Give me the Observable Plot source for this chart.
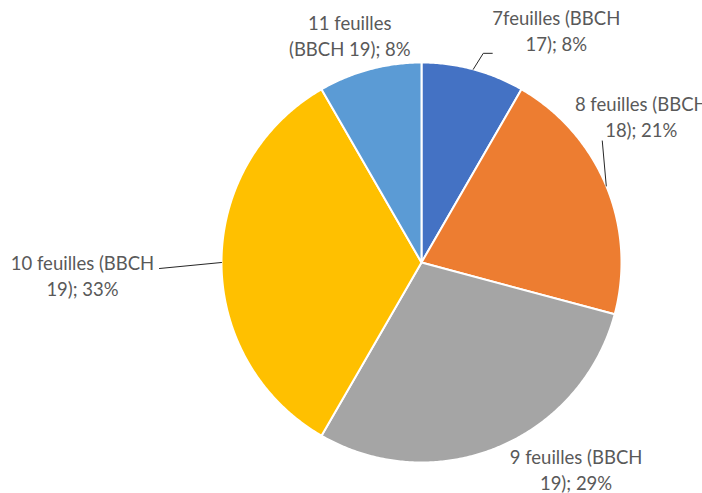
<!DOCTYPE html>
<html><head><meta charset="utf-8">
<script src="https://cdn.jsdelivr.net/npm/d3@7"></script>
<script src="https://cdn.jsdelivr.net/npm/@observablehq/plot@0.6"></script>
<style>body{margin:0;background:#fff;overflow:hidden}</style>
</head><body><div id="chart"></div>
<script>
// ---- data ----
const categories = ["7feuilles (BBCH 17)", "8 feuilles (BBCH 18)", "9 feuilles (BBCH 19)", "10 feuilles (BBCH 19)", "11 feuilles (BBCH 19)"];
const counts = [2, 5, 7, 8, 2];
const labelTexts = ["7feuilles (BBCH\n17); 8%", "8 feuilles (BBCH\n18); 21%", "9 feuilles (BBCH\n19); 29%", "10 feuilles (BBCH\n19); 33%", "11 feuilles\n(BBCH 19); 8%"];
const colors = ["#4472C4", "#ED7D31", "#A5A5A5", "#FFC000", "#5B9BD5"];

// ---- layout (pixels) ----
const W = 702, H = 493, R = 200, CX = 421, CY = 262;
const labelOffsets = [[83, -40], [35, -70], [78, 21], [-139, 12], [-20, -35]];
const leaders = [
  {i: 0, path: [[0, 0], [10, -16], [19, -16]]},
  {i: 1, path: [[0, 0], [-4, -45]]},
  {i: 3, path: [[0, 0], [-62, 6]]}
];

const arcs = d3.pie().sort(null).value(d => d)(counts);
const pt = (a, r = 1) => ({x: r * Math.sin(a), y: r * Math.cos(a)});

const sliceMarks = arcs.map((a, i) => {
  const pts = [{x: 0, y: 0}];
  const n = Math.max(2, Math.ceil((a.endAngle - a.startAngle) / (Math.PI / 360)));
  for (let k = 0; k <= n; k++) pts.push(pt(a.startAngle + (a.endAngle - a.startAngle) * k / n));
  pts.push({x: 0, y: 0});
  return Plot.line(pts, {x: "x", y: "y", fill: colors[i], stroke: "white", strokeWidth: 2, strokeLinejoin: "round", curve: "linear"});
});

const mid = a => (a.startAngle + a.endAngle) / 2;
const labels = arcs.map((a, i) => {
  const p = pt(mid(a));
  return {x: p.x, y: p.y, text: labelTexts[i], dx: labelOffsets[i][0], dy: labelOffsets[i][1]};
});

const leaderMarks = leaders.map(l => {
  const p = pt(mid(arcs[l.i]));
  const pts = l.path.map(([px, py]) => ({x: p.x + px / R, y: p.y - py / R}));
  return Plot.line(pts, {x: "x", y: "y", stroke: "#262626", strokeWidth: 1});
});

const textMarks = labels.map(l => Plot.text([l], {
  x: "x", y: "y", text: "text", dx: l.dx, dy: l.dy,
  fontSize: 18.5, fill: "#595959", lineHeight: 1.42, fontFamily: "Lato"
}));

const chart = Plot.plot({
  width: W, height: H,
  margin: 0,
  x: {domain: [-CX / R, (W - CX) / R], axis: null},
  y: {domain: [-(H - CY) / R, CY / R], axis: null},
  style: {background: "#fff", overflow: "hidden"},
  marks: [...sliceMarks, ...leaderMarks, ...textMarks]
});
document.getElementById("chart").append(chart);
</script>
</body></html>
